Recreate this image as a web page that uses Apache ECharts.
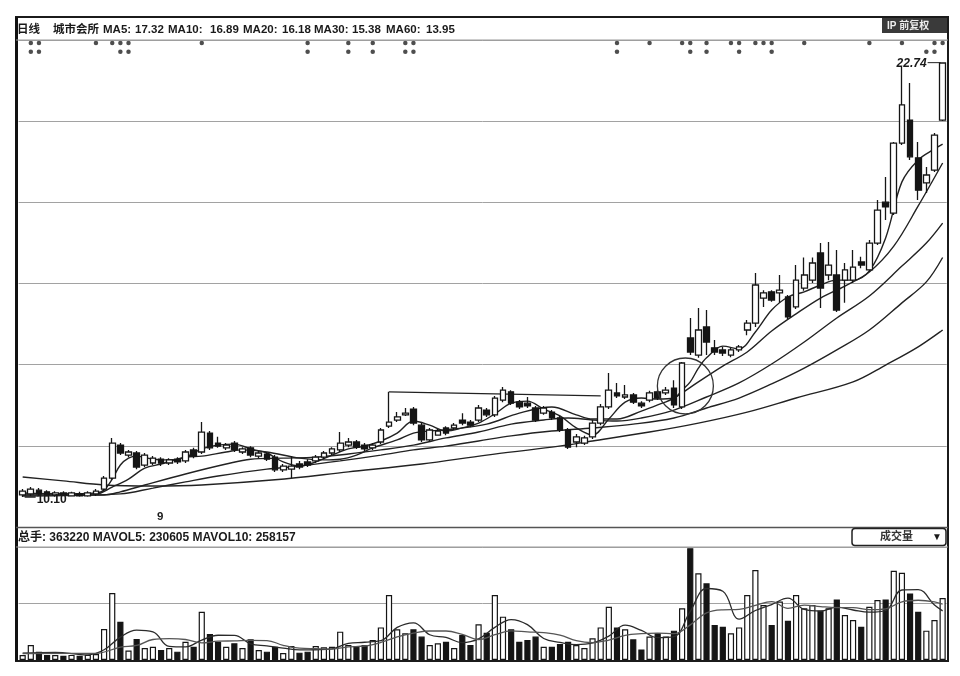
<!DOCTYPE html>
<html><head><meta charset="utf-8">
<script src="https://cdn.jsdelivr.net/npm/echarts@6/dist/echarts.min.js"></script>
<style>html,body{margin:0;padding:0;background:#fff;}#c{width:960px;height:676px;}</style>
</head><body><div id="c"></div>
<script>
// ---- data: [open, close, low, high]
const candles = [
[10.16,10.27,10.10,10.33],[10.19,10.33,10.13,10.39],[10.30,10.19,10.13,10.36],[10.25,10.16,10.12,10.30],
[10.16,10.22,10.12,10.27],[10.22,10.16,10.13,10.27],[10.13,10.22,10.12,10.25],[10.19,10.13,10.11,10.25],
[10.13,10.22,10.11,10.27],[10.19,10.27,10.13,10.33],[10.33,10.65,10.27,10.71],[10.65,11.67,10.60,11.82],
[11.61,11.38,11.32,11.67],[11.32,11.41,11.26,11.47],[11.38,10.97,10.91,11.44],[11.03,11.32,10.97,11.38],
[11.09,11.23,11.03,11.29],[11.20,11.09,11.00,11.26],[11.09,11.18,11.03,11.23],[11.20,11.12,11.06,11.26],
[11.15,11.41,11.09,11.47],[11.47,11.29,11.23,11.53],[11.41,11.99,11.35,12.28],[11.96,11.53,11.47,12.02],
[11.67,11.58,11.53,11.85],[11.53,11.61,11.47,11.67],[11.67,11.47,11.41,11.73],[11.41,11.50,11.35,11.55],
[11.53,11.32,11.26,11.58],[11.29,11.38,11.23,11.44],[11.35,11.20,11.15,11.41],[11.26,10.89,10.83,11.32],
[10.89,11.00,10.83,11.06],[10.91,11.00,10.65,11.29],[11.06,10.97,10.91,11.15],[11.12,11.03,10.97,11.20],
[11.15,11.26,11.09,11.32],[11.26,11.38,11.20,11.44],[11.38,11.50,11.32,11.55],[11.47,11.67,11.41,11.99],
[11.61,11.70,11.55,11.82],[11.70,11.55,11.50,11.76],[11.61,11.50,11.44,11.67],[11.53,11.61,11.47,11.67],
[11.70,12.05,11.64,12.11],[12.16,12.28,12.11,13.16],[12.34,12.43,12.28,12.57],[12.49,12.54,12.46,12.69],
[12.66,12.25,12.19,12.72],[12.19,11.76,11.70,12.25],[11.76,12.05,11.70,12.11],[11.90,12.02,11.88,12.08],
[12.11,11.96,11.90,12.16],[12.11,12.19,12.05,12.25],[12.34,12.25,12.19,12.54],[12.28,12.19,12.13,12.34],
[12.34,12.69,12.28,12.78],[12.63,12.49,12.43,12.69],[12.49,12.98,12.43,13.04],[12.92,13.21,12.86,13.30],
[13.16,12.83,12.78,13.21],[12.86,12.72,12.66,12.92],[12.83,12.75,12.69,13.01],[12.69,12.34,12.28,12.75],
[12.54,12.69,12.49,12.75],[12.57,12.40,12.34,12.63],[12.40,12.05,11.99,12.46],[12.05,11.55,11.50,12.11],
[11.70,11.85,11.55,11.93],[11.67,11.82,11.61,11.88],[11.85,12.25,11.79,12.34],[12.25,12.72,12.19,12.81],
[12.72,13.21,12.66,13.71],[13.13,13.04,12.98,13.42],[13.01,13.07,12.95,13.36],[13.07,12.86,12.81,13.13],
[12.83,12.75,12.69,12.89],[12.92,13.13,12.86,13.19],[13.16,12.98,12.92,13.21],[13.13,13.21,13.07,13.30],
[13.27,12.78,12.69,13.50],[12.72,14.00,12.66,14.03],[14.73,14.32,14.23,15.31],[14.23,14.96,14.15,15.60],
[15.05,14.61,14.23,15.54],[14.44,14.32,14.23,14.67],[14.38,14.29,14.20,14.47],[14.23,14.38,14.17,14.44],
[14.38,14.47,14.32,14.52],[14.96,15.16,14.81,15.25],[15.16,16.27,15.05,16.62],[15.89,16.04,15.63,16.12],
[16.07,15.83,15.78,16.12],[16.04,16.12,15.75,16.56],[15.92,15.34,15.28,15.98],[15.63,16.41,15.57,16.85],
[16.18,16.56,16.10,17.07],[16.41,16.91,16.33,17.07],[17.20,16.18,15.60,17.49],[16.56,16.85,16.41,17.52],
[16.56,15.54,15.48,17.29],[16.41,16.71,15.75,16.91],[16.41,16.79,16.33,17.29],[16.94,16.85,16.76,17.09],
[16.71,17.49,16.65,17.58],[17.49,18.45,17.43,18.74],[18.68,18.54,18.16,19.41],[18.36,20.40,18.31,20.43],
[20.40,21.51,20.34,22.61],[21.07,20.00,19.91,22.15],[19.97,19.03,18.74,20.43],[19.24,19.47,18.95,19.70],
[19.61,20.63,19.56,20.69],[21.07,22.73,21.04,22.74]
];
const volumes = [
29000,88000,48000,29000,29000,25000,30000,25000,30000,35000,
182000,392000,224000,55000,123000,70000,78000,59000,70000,49000,
107000,78000,283000,152000,107000,78000,98000,70000,121000,59000,
49000,78000,41000,82000,43000,49000,82000,74000,78000,166000,
88000,82000,88000,117000,191000,381000,180000,156000,180000,137000,
88000,98000,107000,70000,146000,88000,209000,160000,381000,254000,
180000,107000,117000,137000,78000,78000,94000,107000,88000,70000,
127000,191000,312000,191000,180000,121000,62000,137000,156000,137000,
172000,303000,655000,508000,449000,205000,195000,156000,191000,381000,
527000,322000,205000,342000,230000,381000,303000,322000,289000,303000,
355000,264000,234000,195000,312000,351000,355000,523000,511000,390000,
283000,172000,234000,363220
];
// moving averages: [day index, value]
const ma5 = [[0,10.22],[5,10.19],[9,10.22],[10,10.30],[11,10.62],[12,11.03],[13,11.23],[14,11.29],[16,11.20],[18,11.18],[20,11.26],[22,11.50],[24,11.61],[26,11.64],[28,11.50],[30,11.38],[32,11.12],[34,11.00],[36,11.12],[38,11.32],[40,11.50],[42,11.58],[44,11.73],[46,11.96],[48,12.31],[50,12.19],[52,12.02],[54,12.11],[56,12.25],[58,12.52],[60,12.83],[62,12.89],[64,12.66],[66,12.46],[68,12.11],[70,11.90],[72,12.37],[74,12.86],[76,12.98],[78,12.95],[80,12.98],[81,13.21],[82,13.45],[83,13.85],[84,14.15],[86,14.49],[88,14.41],[90,14.90],[92,15.54],[94,15.92],[96,16.07],[98,16.27],[100,16.41],[102,16.41],[104,16.68],[106,17.64],[108,19.27],[110,19.91],[112,20.23],[113,20.37]];
const ma10 = [[0,10.19],[9,10.19],[11,10.39],[13,10.62],[15,10.94],[17,11.06],[20,11.26],[22,11.29],[25,11.41],[27,11.47],[30,11.41],[34,11.23],[37,11.18],[39,11.20],[41,11.32],[43,11.53],[46,11.76],[48,11.96],[50,12.02],[53,12.08],[57,12.22],[61,12.54],[65,12.72],[68,12.49],[70,12.37],[73,12.37],[76,12.60],[78,12.78],[80,12.98],[83,13.45],[86,13.91],[89,14.32],[92,14.93],[95,15.43],[98,15.89],[101,16.24],[104,16.65],[107,17.40],[110,18.57],[113,19.82]];
const ma20 = [[0,10.16],[10,10.16],[12,10.25],[15,10.45],[20,10.77],[25,11.06],[28,11.20],[32,11.23],[36,11.26],[40,11.35],[44,11.47],[48,11.61],[52,11.82],[56,11.99],[60,12.22],[64,12.34],[67,12.40],[70,12.34],[73,12.31],[76,12.40],[80,12.63],[84,13.01],[88,13.42],[92,13.97],[96,14.61],[100,15.31],[104,15.95],[108,16.82],[111,17.49],[113,18.07]];
const ma30 = [[0,10.13],[12,10.19],[16,10.36],[20,10.54],[24,10.71],[30,10.91],[34,11.00],[39,11.15],[44,11.32],[48,11.47],[52,11.58],[56,11.73],[60,11.88],[65,12.02],[70,12.11],[75,12.22],[80,12.40],[84,12.69],[88,12.98],[92,13.39],[96,13.85],[100,14.38],[104,14.96],[108,15.75],[111,16.36],[113,17.07]];
const ma60 = [[0,10.68],[5,10.57],[10,10.45],[16,10.42],[22,10.45],[31,10.60],[40,10.83],[49,11.06],[57,11.32],[65,11.55],[70,11.73],[77,11.99],[83,12.25],[89,12.57],[95,12.98],[102,13.45],[106,13.94],[110,14.47],[113,14.96]];
const mavol5 = [[0,40000],[4,45000],[8,30000],[10,60000],[12,134000],[14,175000],[16,165000],[18,80000],[20,77000],[22,117000],[24,145000],[26,144000],[28,95000],[30,83000],[32,70000],[34,59000],[36,60000],[38,65000],[40,98000],[42,104000],[44,113000],[46,191000],[48,218000],[50,148000],[52,132000],[54,102000],[56,124000],[58,191000],[60,237000],[62,207000],[64,126000],[66,103000],[68,90000],[70,100000],[72,140000],[74,204000],[76,173000],[78,131000],[80,137000],[82,285000],[84,419000],[86,403000],[88,239000],[90,290000],[92,325000],[94,362000],[96,296000],[98,287000],[100,310000],[102,293000],[104,280000],[106,290000],[108,410000],[110,412000],[112,322000],[113,288000]];
const mavol10 = [[0,38000],[9,39000],[12,75000],[14,85000],[16,120000],[18,125000],[20,120000],[22,100000],[24,110000],[26,112000],[28,115000],[30,114000],[32,86000],[34,69000],[36,66000],[38,64000],[40,77000],[42,82000],[44,103000],[46,135000],[48,157000],[50,170000],[52,170000],[54,150000],[56,120000],[58,148000],[60,171000],[62,165000],[64,160000],[66,146000],[68,113000],[70,101000],[72,117000],[74,144000],[76,154000],[78,157000],[80,155000],[82,206000],[84,276000],[86,294000],[88,296000],[90,320000],[92,342000],[94,303000],[96,322000],[98,313000],[100,307000],[102,307000],[104,295000],[106,300000],[108,341000],[110,350000],[112,341000],[113,327000]];
// information-mine dots (day indices)
const dotsRow1 = [1,2,9,11,12,13,22,35,40,43,47,48,73,77,81,82,84,87,88,90,91,92,96,104,108,112,113];
const dotsRow2 = [1,2,12,13,35,40,43,47,48,73,82,84,88,92,111,112];
const categories = candles.map((d, i) => 'D' + (i + 1));
const headerTokens = [['日线',17],['城市会所',53],['MA5:',103],['17.32',135],['MA10:',168],['16.89',210],['MA20:',243],['16.18',282],['MA30:',314],['15.38',352],['MA60:',386],['13.95',426]];
const volHeader = '总手: 363220 MAVOL5: 230605 MAVOL10: 258157';
const highLabel = '22.74', lowLabel = '10.10';

const N = candles.length;
const FONT = "'Liberation Sans','Noto Sans CJK SC',sans-serif";
const chart = echarts.init(document.getElementById('c'));
const hideAxis = {axisLabel:{show:false}, axisLine:{show:false}, axisTick:{show:false}};
const maLine = (data) => ({type:'line', xAxisIndex:1, yAxisIndex:0, data, smooth:0.35, symbol:'none',
  lineStyle:{color:'#222', width:1.4}, z:3, silent:true});
const volLine = (data, c) => ({type:'line', xAxisIndex:3, yAxisIndex:2, data, smooth:0.4, symbol:'none',
  lineStyle:{color:c, width:1.3}, z:4, silent:true});

const option = {
  animation:false,
  backgroundColor:'#fff',
  grid:[{left:18.6, right:13.3, top:40, height:487}, {left:18.6, right:13.3, top:547, height:113}],
  xAxis:[
    {type:'category', gridIndex:0, data:categories, boundaryGap:true, show:false},
    {type:'value', gridIndex:0, min:-0.5, max:N-0.5, show:false},
    {type:'category', gridIndex:1, data:categories, boundaryGap:true, show:false},
    {type:'value', gridIndex:1, min:-0.5, max:N-0.5, show:false}
  ],
  yAxis:[
    {type:'value', gridIndex:0, min:9.227, max:23.399, show:false},
    Object.assign({type:'value', gridIndex:0, min:0, max:6, interval:1,
      splitLine:{show:true, lineStyle:{color:'#a2a2a2', width:1}}}, hideAxis),
    Object.assign({type:'value', gridIndex:1, min:0, max:662000, interval:331000,
      splitLine:{show:true, lineStyle:{color:'#a2a2a2', width:1}}}, hideAxis)
  ],
  series:[
    {type:'candlestick', xAxisIndex:0, yAxisIndex:0, data:candles, barWidth:'76%', z:5,
      itemStyle:{color:'#ffffff', color0:'#151515', borderColor:'#151515', borderColor0:'#151515', borderWidth:1.3},
      markLine:{symbol:'none', silent:true, label:{show:false},
        lineStyle:{color:'#222', width:1.3, type:'solid'},
        data:[[{coord:[categories[45], 13.16]}, {coord:[categories[71], 13.04]}]]}
    },
    maLine(ma5), maLine(ma10), maLine(ma20), maLine(ma30), maLine(ma60),
    {type:'scatter', xAxisIndex:1, yAxisIndex:0, symbolSize:4.5, itemStyle:{color:'#222'}, silent:true,
      data: dotsRow1.map(i => [i, 23.31])},
    {type:'scatter', xAxisIndex:1, yAxisIndex:0, symbolSize:4.5, itemStyle:{color:'#222'}, silent:true,
      data: dotsRow2.map(i => [i, 23.06])},
    {type:'bar', xAxisIndex:2, yAxisIndex:2, barWidth:'76%', z:3,
      data: volumes.map((v, i) => {
        const up = candles[i][1] >= candles[i][0];
        return {value:v, itemStyle: up ? {color:'#fff', borderColor:'#151515', borderWidth:1.2} : {color:'#151515', borderColor:'#151515', borderWidth:1.2}};
      })},
    volLine(mavol5, '#2a2a2a'), volLine(mavol10, '#555')
  ]
};
chart.setOption(option);

// annotations placed through the chart's own coordinate conversion
const toPx = (x, y) => chart.convertToPixel({seriesIndex:1}, [x, y]);
const g = [];
const txt = (text, x, y, opt) => g.push({type:'text', x, y, z:100, style:Object.assign({text, fill:'#1a1a1a',
  font:'bold 11.5px ' + FONT, textVerticalAlign:'middle'}, opt || {})});
// frame and pane separators
g.push({type:'rect', z:90, shape:{x:16, y:17, width:932, height:644}, style:{fill:'none', stroke:'#1b1b1b', lineWidth:2}});
g.push({type:'line', z:90, shape:{x1:16.5, y1:17, x2:16.5, y2:661}, style:{stroke:'#111', lineWidth:3}});
g.push({type:'line', z:90, shape:{x1:16, y1:40, x2:948, y2:40}, style:{stroke:'#9a9a9a', lineWidth:1}});
g.push({type:'line', z:90, shape:{x1:16, y1:527.5, x2:948, y2:527.5}, style:{stroke:'#555', lineWidth:1.5}});
g.push({type:'line', z:90, shape:{x1:16, y1:547, x2:948, y2:547}, style:{stroke:'#9a9a9a', lineWidth:1}});
headerTokens.forEach(t => txt(t[0], t[1], 30));
txt(volHeader, 18, 538, {font:'bold 12px ' + FONT});
txt('9', 157, 517);
// top-right box
g.push({type:'rect', z:95, shape:{x:882, y:18, width:65, height:15}, style:{fill:'#3a3a3a'}});
txt('IP 前复权', 887, 26, {fill:'#eee', font:'bold 10px ' + FONT});
// volume selector box
g.push({type:'rect', z:95, shape:{x:852, y:528.5, width:94, height:17, r:3}, style:{fill:'#fff', stroke:'#222', lineWidth:1.5}});
txt('成交量', 880, 537, {font:'bold 11px ' + FONT, fill:'#333'});
txt('▼', 932, 537, {font:'10px ' + FONT});
// high / low labels
const hp = toPx(N - 1, 22.74);
txt(highLabel, hp[0] - 16, hp[1] + 1, {textAlign:'right', font:'italic bold 12px ' + FONT});
g.push({type:'line', z:100, shape:{x1:hp[0] - 15, y1:hp[1], x2:hp[0] - 2, y2:hp[1]}, style:{stroke:'#222', lineWidth:1}});
const lp = toPx(0, 10.10);
txt(lowLabel, lp[0] + 14, lp[1] + 3, {font:'bold 12px ' + FONT});
g.push({type:'line', z:100, shape:{x1:lp[0] + 2, y1:lp[1], x2:lp[0] + 13, y2:lp[1]}, style:{stroke:'#222', lineWidth:1.5}});
// circle around the breakout
const cp = toPx(81.4, 13.33);
g.push({type:'circle', z:100, shape:{cx:cp[0], cy:cp[1], r:28}, style:{fill:'none', stroke:'#333', lineWidth:1.3}});
chart.setOption({graphic:g});
</script></body></html>
